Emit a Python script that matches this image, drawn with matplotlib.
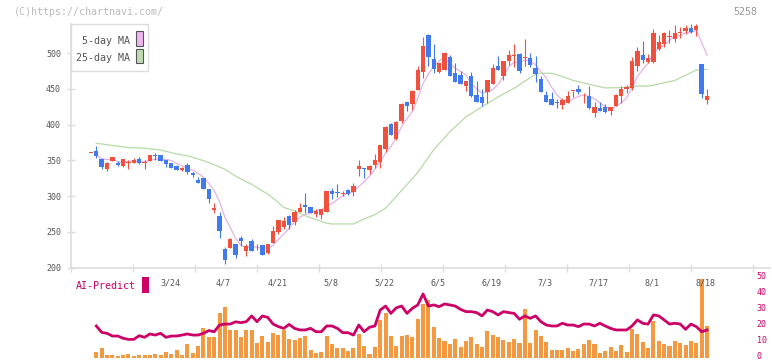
import numpy as np
import pandas as pd
import matplotlib
matplotlib.use('Agg')
import matplotlib.pyplot as plt
from matplotlib.patches import Rectangle
from matplotlib.transforms import blended_transform_factory, ScaledTranslation

plt.rcParams['font.family'] = ['DejaVu Sans Mono']

# --- daily candles (first entry is the candle before index 0) ---
opens = [360, 363.2, 352, 338, 349.6, 346.8, 342.6, 346.8, 345.9, 352, 347, 349.6, 357.3, 357.6, 350.6,
         346.4, 342.2, 336.6, 343.6, 332.8, 322.6, 325.4, 310, 280.5, 272.1, 225.9, 227.8, 232.9, 241.8,
         223.6, 237.1, 229.5, 231.5, 220.3, 234.3, 250.2, 256.7, 272.1, 263.7, 278.2, 287.1, 284.3, 275.4,
         273.9, 278.2, 307.2, 305, 303.6, 308.5, 306.2, 337.4, 339.3, 336.5, 343.6, 348.2, 366, 401, 380.4,
         405.2, 431.8, 429, 448.6, 474.3, 525.6, 492, 474.3, 476.6, 494.8, 472.9, 469.6, 454.2, 468.2,
         441.6, 438.3, 446.3, 457, 482.2, 468.7, 489.2, 496, 499.5, 493.2, 493.4, 479.4, 464, 441.6, 436,
         432.3, 428.1, 430.9, 447, 450, 439.5, 440.2, 416.9, 423.4, 424.3, 419.7, 426.2, 440.2, 449.5,
         451.9, 482.2, 497.6, 488.3, 488.3, 506, 513, 522.2, 520, 528.2, 531.2, 535.4, 533.1, 485, 434.6]
highs = [360, 370.7, 352, 348.2, 354.3, 349.6, 352, 350.6, 353.4, 354.8, 350.1, 357.6, 359.9, 357.6, 350.6,
         346.4, 343.6, 341.2, 346.4, 333.8, 326.8, 325.4, 310, 290.3, 277.7, 228.7, 240.9, 232.9, 244.1,
         233.4, 239.9, 232.5, 231.5, 232.9, 258.1, 266.5, 270.3, 274, 280.5, 290.3, 304.8, 285, 282,
         281.9, 307.2, 310.9, 317, 307.5, 310, 317.9, 350.6, 339.3, 343.1, 358.5, 371.6, 398.2, 402.4,
         405.2, 430, 431.8, 449.1, 482.2, 523.3, 526.6, 513, 486.9, 501.8, 498.1, 486.9, 475.7, 461.7,
         473.8, 461.2, 450, 462.6, 485, 496.2, 489.2, 504.6, 513, 500.4, 520, 500.4, 496.2, 468.2, 447.7,
         445.8, 436, 437.4, 447.7, 447.7, 455.6, 444, 454.2, 431.8, 431.8, 429, 424.3, 443, 454.2, 455.1,
         494.8, 509.3, 517.2, 499, 534, 525.6, 529.4, 532.6, 539.6, 537.3, 539.6, 540.5, 540.5, 485, 450]
lows = [360, 353.8, 338.4, 335.6, 349.6, 342.6, 341.2, 338, 345.9, 345.4, 338.4, 349.6, 351, 349.6, 341.2,
        339.9, 336.6, 335.6, 331.4, 327.2, 318.8, 310.4, 290.8, 275.9, 241.8, 205.4, 227.8, 213.8, 230.6,
        216.1, 223.6, 224.5, 217.5, 218.9, 234.3, 246.9, 253.9, 253.5, 259.5, 278.2, 277, 275.9, 270.3,
        268, 278.2, 296, 299.2, 300, 301.5, 300, 328.6, 325.8, 330.9, 338.9, 339.8, 362.2, 385.6, 378.6,
        402.4, 419.7, 420.6, 448.6, 464.9, 482.2, 472, 472, 476.6, 468.7, 460.3, 457, 447.2, 438.3,
        432.3, 426.7, 429.9, 457, 476, 462.6, 483.6, 481.3, 472.9, 482.7, 481.3, 460.3, 446.3, 432.3,
        428.1, 423.9, 422.5, 430.9, 438.3, 443, 430, 422, 411.3, 419.7, 416.9, 413.6, 426.2, 430.9, 444,
        448.6, 475.7, 486.9, 486, 486, 504.6, 509.3, 514, 515.8, 521, 527, 528.4, 524.2, 437.4, 429]
closes = [360, 356.2, 341.2, 346.8, 354.3, 343.1, 352, 347, 350.6, 345.9, 347.5, 357.6, 356.8, 349.6, 345.4,
          339.9, 336.6, 339.9, 333.8, 330, 318.8, 310.4, 296, 283.3, 251.6, 211, 239.9, 218, 237.6,
          230.6, 223.6, 230, 217.5, 232.9, 251.1, 266.5, 265.1, 259.5, 277.7, 283.8, 284.3, 276.3, 278.7,
          281.9, 307.2, 303.4, 304, 304.2, 303, 314.2, 342.1, 337.5, 342.1, 350.6, 371.6, 397.3, 385.6,
          403.8, 429, 426.2, 447.2, 476.6, 510.2, 495.3, 478, 486.9, 500.9, 468.7, 460.3, 457, 461.7,
          440.2, 432.3, 430.9, 462.6, 479, 476.6, 489.2, 497.6, 496.6, 475.2, 493.6, 483.6, 471.5, 446.3,
          432.3, 428.1, 430, 434.6, 440.2, 447.4, 445.8, 440, 423.4, 424.3, 419.7, 418.3, 424.3, 441.6,
          450, 452.8, 489.2, 503.2, 490.6, 493.9, 528.4, 515.8, 528.4, 522.6, 528.4, 528.6, 535.4, 529.8,
          538.7, 443.5, 440.2]

# --- 25-day moving average, read at selected candle indices ---
ma25_idx = [0, 3, 6, 9, 12, 15, 17, 19, 21, 22, 24, 26, 27, 29, 31, 32, 34, 35, 37, 38, 39, 41, 43, 44,
            48, 50, 52, 54, 57, 60, 63, 66, 69, 72, 75, 78, 80, 82, 83, 85, 87, 89, 92, 95, 98, 101, 103,
            106, 108, 110, 112, 114]
ma25_val = [374, 371, 368, 367, 364.5, 359, 356.5, 352, 347, 344, 337.5, 328, 324, 316.5, 307, 303, 291,
            284, 279.5, 276, 272.5, 267, 262, 261, 261, 268, 274, 283, 308, 333, 365, 390, 411, 425, 439,
            451, 461, 470.5, 472, 472, 467.5, 462, 456.5, 451.5, 452, 454, 454, 458.5, 462, 469, 476.5,
            477.5]

# --- lower panel: volume (relative height) and AI-Predict score, indices 0..114 ---
volume = [3.6, 6.1, 1.7, 1.7, 1.1, 1.7, 2.3, 1.1, 1.7, 1.7, 1.7, 2.3, 1.7, 3.6, 2.3, 4.8, 1.7, 8.6, 3.0,
          7.3, 18.6, 13, 13, 28, 31.8, 17.4, 17.4, 13, 17.4, 17.4, 9.2, 13.6, 9.9, 15.5, 14.2, 17.4, 11.7,
          11.1, 12.4, 13.6, 4.8, 3.0, 3.6, 13.6, 8.6, 6.1, 6.1, 4.2, 6.1, 14.9, 7.3, 2.3, 6.7, 23.7, 28,
          13.6, 7.3, 13.6, 14.2, 13, 24.3, 33.8, 36.2, 19.3, 12.4, 10.5, 8.6, 11.7, 6.7, 10.5, 13, 8.6,
          6.7, 16.8, 14.2, 13, 11.1, 9.9, 11.7, 9.2, 30.6, 9.2, 17.4, 13.6, 9.9, 4.8, 4.8, 4.8, 6.1, 4.2,
          5.5, 8.6, 11.1, 8.6, 3.0, 4.2, 6.7, 4.2, 8.0, 3.6, 18, 14.9, 9.9, 6.1, 23, 10.5, 8.6, 7.3, 10.5,
          9.2, 8.0, 10.5, 9.2, 49.1, 19.9]
ai_predict = [19.9, 15.9, 15.3, 13.6, 13.6, 12.2, 11.5, 11.5, 13.8, 12.8, 14.9, 14.2, 15.3, 12.8, 13.6,
              13.6, 14.2, 14.9, 14.2, 14.2, 15.3, 17, 16.3, 20.5, 21.1, 21.1, 22.5, 22, 22.6, 26.2, 22.6,
              26.2, 25.3, 21.1, 19.5, 18.4, 20.9, 18.4, 17.4, 17.4, 18.4, 16.3, 16.3, 19.9, 19.9, 18.4,
              15.7, 15.7, 14.2, 20.5, 16.3, 19.1, 19.9, 29.9, 32.4, 27.8, 31.3, 32.4, 27.8, 31, 33.1, 40,
              32.4, 33.1, 32, 33.7, 33.1, 32.4, 30.3, 28.9, 28.9, 28.3, 26.2, 29.9, 28.9, 26.8, 28.9, 28.3,
              27.8, 24.1, 26.2, 24.7, 26.2, 22.6, 20.5, 19.9, 19.9, 21.6, 20.5, 20.5, 19.5, 21.1, 21.1,
              19.9, 21.6, 19.9, 18.4, 17.4, 17.4, 17.4, 19.9, 23.7, 21.6, 21.1, 26.8, 26.2, 23.7, 21.1,
              21.6, 21.1, 17.8, 21.1, 19.5, 16.3, 17.4]

date_labels = ['3/24', '4/7', '4/21', '5/8', '5/22', '6/5', '6/19', '7/3', '7/17', '8/1', '8/18']
date_idx = [14, 24, 34, 44, 54, 64, 74, 84, 94, 104, 114]

price_ticks = [200, 250, 300, 350, 400, 450, 500]
ai_ticks = [0, 10, 20, 30, 40, 50]

# colours
UP, DOWN = '#F0513E', '#417AEE'
MA5_C, MA25_C = '#E6B2E9', '#B6DBA6'
VOL_C, AI_C = '#F39942', '#CC0066'
AXIS_C, TXT_C = '#dddddd', '#555555'

W, H = 772, 361
SLOT, X0 = 5.357, 96.3   # pixels per candle, pixel x of candle 0


def px_box(l, t, r, b):
    return [l / W, 1 - b / H, (r - l) / W, (b - t) / H]


def px_to_idx(px):
    return (px - X0) / SLOT


fig = plt.figure(figsize=(W / 100, H / 100), dpi=100)
ax = fig.add_axes(px_box(70.7, 24, 770, 267.5))
ax2 = fig.add_axes(px_box(70.7, 278, 752.7, 357.7))

o, h, l, c = map(np.array, (opens, highs, lows, closes))
x = np.arange(len(o)) - 1
cols = np.where(c >= o, UP, DOWN)

# moving averages
ma5 = pd.Series(c).rolling(5, min_periods=1).mean()
ax.plot(x[1:], ma5[1:], color=MA5_C, lw=0.9, zorder=1)
ax.plot(ma25_idx, ma25_val, color=MA25_C, lw=0.9, zorder=1)

# candles
ax.vlines(x, l, h, colors=cols, lw=0.8, zorder=2)
body = np.maximum(np.abs(c - o), 1.3)
ax.bar(x, body, bottom=np.minimum(o, c), width=0.82, color=cols, zorder=3)

ax.set_xlim(px_to_idx(70.7), px_to_idx(770))
ax.set_ylim(200, 541)
ax.set_yticks(price_ticks)
ax.set_xticks([px_to_idx(70.7 + 62 * k) for k in range(12)])
ax.set_xticklabels([])
ax.tick_params(axis='both', direction='inout', length=6, width=1, color=AXIS_C)
ax.tick_params(axis='y', labelsize=6, labelcolor=TXT_C, pad=4)
for s in ('top', 'right'):
    ax.spines[s].set_visible(False)
for s in ('left', 'bottom'):
    ax.spines[s].set_color(AXIS_C)
    ax.spines[s].set_linewidth(1.2)

# lower panel
vx = np.arange(len(volume))
ax2.bar(vx, volume, width=0.75, color=VOL_C, zorder=1)
ax2.plot(vx, ai_predict, color=AI_C, lw=2, zorder=2)
ax2.set_xlim(px_to_idx(70.7), px_to_idx(752.7))
ax2.set_ylim(0, 50)
ax2.yaxis.tick_right()
ax2.set_yticks(ai_ticks)
ax2.tick_params(axis='y', length=0, pad=3, labelsize=6, labelcolor=AI_C)
ax2.set_xticks([])
for s in ax2.spines.values():
    s.set_visible(False)
# nudge right-hand labels up a little so the "0" stays inside the figure
lift = ScaledTranslation(0, 2.5 / 100, fig.dpi_scale_trans)
for lab in ax2.get_yticklabels():
    lab.set_transform(lab.get_transform() + lift)

# date labels between panels
tr = blended_transform_factory(ax2.transData, fig.transFigure)
for lab, i in zip(date_labels, date_idx):
    ax2.text(i - 0.25, 1 - 283 / H, lab, transform=tr, ha='center', va='center',
             fontsize=6, color=TXT_C, clip_on=False)

# legend for moving averages
fig.patches.append(Rectangle((70.7 / W, 1 - 71.3 / H), 77.6 / W, 47.3 / H, transform=fig.transFigure,
                             facecolor='white', edgecolor=AXIS_C, lw=1, zorder=5))
fig.text(129.7 / W, 1 - 40.7 / H, '5-day MA', ha='right', va='center', fontsize=7.2, color=TXT_C, zorder=6)
fig.text(129.7 / W, 1 - 57.7 / H, '25-day MA', ha='right', va='center', fontsize=7.2, color=TXT_C, zorder=6)
fig.patches.append(Rectangle((136.3 / W, 1 - 46.3 / H), 6.4 / W, 15.3 / H, transform=fig.transFigure,
                             facecolor='#EDB6EE', edgecolor=TXT_C, lw=0.8, zorder=6))
fig.patches.append(Rectangle((136.3 / W, 1 - 63.3 / H), 6.4 / W, 14.6 / H, transform=fig.transFigure,
                             facecolor='#BDDDB0', edgecolor=TXT_C, lw=0.8, zorder=6))

# AI-Predict legend
fig.text(76 / W, 1 - 286 / H, 'AI-Predict', ha='left', va='center', fontsize=7.2, color=AI_C)
fig.patches.append(Rectangle((142 / W, 1 - 293 / H), 7 / W, 16 / H, transform=fig.transFigure,
                             facecolor=AI_C, edgecolor='none'))

# header texts
fig.text(14 / W, 1 - 12 / H, '(C)https://chartnavi.com/', ha='left', va='center', fontsize=7.2, color='#bbbbbb')
fig.text(757 / W, 1 - 12 / H, '5258', ha='right', va='center', fontsize=7.2, color='#999999')

fig.savefig('out.png', dpi=100)
